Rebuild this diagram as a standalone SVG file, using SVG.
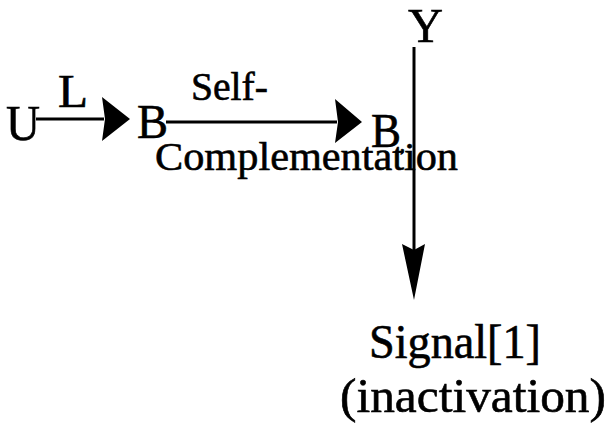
<svg xmlns="http://www.w3.org/2000/svg" width="607" height="448" viewBox="0 0 607 448">
<style>
text{font-family:"Liberation Serif","Times New Roman",serif;fill:#000;stroke:#000;stroke-width:0.6}
.ln{stroke:#000;stroke-width:3;fill:none}
.hd{fill:#000;stroke:none}
</style>
<rect width="607" height="448" fill="#fff"/>
<g id="connectors">
<line class="ln" x1="36" y1="119" x2="104" y2="119"/>
<polygon class="hd" points="102,97 130,119 102,141 105,119"/>
<line class="ln" x1="166" y1="122" x2="337" y2="122"/>
<polygon class="hd" points="335,99 362,122 335,143 338,122"/>
<line class="ln" x1="414" y1="47" x2="414" y2="250"/>
<polygon class="hd" points="402,244 414,300 425,244 414,250"/>
</g>
<g id="U"><text x="6" y="140" font-size="50" textLength="34" lengthAdjust="spacingAndGlyphs">U</text></g>
<g id="L-label"><text x="58" y="107" font-size="46" textLength="30" lengthAdjust="spacingAndGlyphs">L</text></g>
<g id="B"><text x="137" y="138" font-size="48" textLength="31" lengthAdjust="spacingAndGlyphs">B</text></g>
<g id="self-complementation-label">
<text x="191" y="100" font-size="40" textLength="77" lengthAdjust="spacingAndGlyphs">Self-</text>
<text x="155" y="170" font-size="41" textLength="303" lengthAdjust="spacingAndGlyphs">Complementation</text>
</g>
<g id="B1"><text x="371" y="147" font-size="48" textLength="30" lengthAdjust="spacingAndGlyphs">B</text><text x="400" y="151" font-size="20">,</text></g>
<g id="Y"><text x="408" y="42" font-size="48" textLength="35" lengthAdjust="spacingAndGlyphs">Y</text></g>
<g id="signal">
<text x="369" y="358" font-size="48" textLength="172" lengthAdjust="spacingAndGlyphs">Signal[1]</text>
<text x="340" y="412" font-size="48" textLength="266" lengthAdjust="spacingAndGlyphs">(inactivation)</text>
</g>
</svg>
